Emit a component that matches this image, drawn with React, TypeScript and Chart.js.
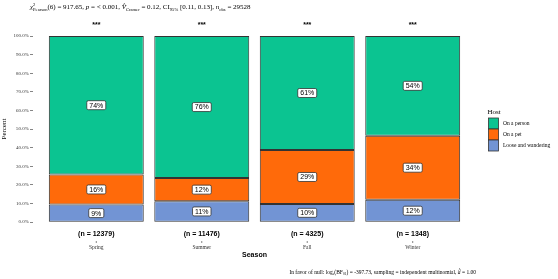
import React, { useEffect, useRef } from "react";
import { Chart, registerables } from "chart.js";

Chart.register(...registerables);

const categories = ["Spring", "Summer", "Fall", "Winter"];
const counts = [12379, 11476, 4325, 1348];
const significance = ["***", "***", "***", "***"];
const seriesNames = ["Loose and wandering", "On a pet", "On a person"];
const loose = [9.4, 11.2, 9.7, 12.0];
const pet = [16.2, 12.4, 29.0, 34.4];
const person = [74.4, 76.4, 61.3, 53.6];
const seriesColors = ["#7294D4", "#FF6A0A", "#0BC491"];
const yTickStep = 10;

const SERIF = "'Liberation Serif', 'DejaVu Serif', serif";
const SANS = "'Liberation Sans', Arial, sans-serif";

type Piece = { t: string; sub?: string; sup?: string; italic?: boolean; hat?: boolean };

function drawPieces(ctx: CanvasRenderingContext2D, pieces: Piece[], x: number, y: number, size: number, align: "left" | "right") {
  const subSize = size * 0.65;
  const measure = () => {
    let w = 0;
    for (const p of pieces) {
      ctx.font = `${p.italic ? "italic " : ""}${size}px ${SERIF}`;
      w += ctx.measureText(p.t).width;
      ctx.font = `${subSize}px ${SERIF}`;
      const ws = p.sub ? ctx.measureText(p.sub).width : 0;
      const wp = p.sup ? ctx.measureText(p.sup).width : 0;
      w += Math.max(ws, wp);
    }
    return w;
  };
  let cx = align === "right" ? x - measure() : x;
  ctx.textAlign = "left";
  ctx.textBaseline = "alphabetic";
  for (const p of pieces) {
    ctx.font = `${p.italic ? "italic " : ""}${size}px ${SERIF}`;
    ctx.fillText(p.t, cx, y);
    const tw = ctx.measureText(p.t).width;
    if (p.hat) {
      ctx.fillText("^", cx + tw * 0.2, y - size * 0.35);
    }
    cx += tw;
    ctx.font = `${subSize}px ${SERIF}`;
    let adv = 0;
    if (p.sub) {
      ctx.fillText(p.sub, cx, y + size * 0.28);
      adv = Math.max(adv, ctx.measureText(p.sub).width);
    }
    if (p.sup) {
      ctx.fillText(p.sup, cx, y - size * 0.45);
      adv = Math.max(adv, ctx.measureText(p.sup).width);
    }
    cx += adv;
  }
}

function roundRect(ctx: CanvasRenderingContext2D, x: number, y: number, w: number, h: number, r: number) {
  ctx.beginPath();
  ctx.moveTo(x + r, y);
  ctx.lineTo(x + w - r, y);
  ctx.quadraticCurveTo(x + w, y, x + w, y + r);
  ctx.lineTo(x + w, y + h - r);
  ctx.quadraticCurveTo(x + w, y + h, x + w - r, y + h);
  ctx.lineTo(x + r, y + h);
  ctx.quadraticCurveTo(x, y + h, x, y + h - r);
  ctx.lineTo(x, y + r);
  ctx.quadraticCurveTo(x, y, x + r, y);
  ctx.closePath();
}

const decorPlugin = {
  id: "decor",
  afterDatasetsDraw(chart: any) {
    const ctx: CanvasRenderingContext2D = chart.ctx;
    const xs = chart.scales.x;
    const area = chart.chartArea;
    ctx.save();
    ctx.fillStyle = "#000";

    // segment labels
    chart.data.datasets.forEach((ds: any, di: number) => {
      const meta = chart.getDatasetMeta(di);
      meta.data.forEach((bar: any, i: number) => {
        const v = ds.data[i].y;
        const txt = `${Math.round(v)}%`;
        const cy = (bar.y + bar.base) / 2;
        ctx.font = `7px ${SANS}`;
        const tw = ctx.measureText(txt).width;
        const bw = tw + 5;
        const bh = 9;
        roundRect(ctx, bar.x - bw / 2, cy - bh / 2, bw, bh, 1.5);
        ctx.fillStyle = "#fff";
        ctx.fill();
        ctx.strokeStyle = "#333";
        ctx.lineWidth = 0.8;
        ctx.stroke();
        ctx.fillStyle = "#000";
        ctx.textAlign = "center";
        ctx.textBaseline = "middle";
        ctx.fillText(txt, bar.x, cy + 0.5);
      });
    });

    // category annotations
    categories.forEach((c, i) => {
      const px = xs.getPixelForValue(i + 1);
      ctx.textAlign = "center";
      ctx.textBaseline = "middle";
      ctx.fillStyle = "#000";
      ctx.font = `bold 7px ${SANS}`;
      ctx.fillText(significance[i], px, 25);
      ctx.font = `bold 7px ${SANS}`;
      ctx.fillText(`(n = ${counts[i]})`, px, 234);
      ctx.strokeStyle = "#333";
      ctx.lineWidth = 0.6;
      ctx.beginPath();
      ctx.moveTo(px, 241);
      ctx.lineTo(px, 243);
      ctx.stroke();
      ctx.font = `5.5px ${SERIF}`;
      ctx.fillStyle = "#333";
      ctx.fillText(c, px, 247.5);
    });

    // x axis title
    ctx.fillStyle = "#000";
    ctx.font = `bold 7px ${SANS}`;
    ctx.textAlign = "center";
    ctx.fillText("Season", (area.left + area.right) / 2, 255.5);

    // subtitle
    drawPieces(
      ctx,
      [
        { t: "χ", sub: "Pearson", sup: "2", italic: true },
        { t: "(6) = 917.65, " },
        { t: "p", italic: true },
        { t: " = < 0.001, " },
        { t: "V", italic: true, hat: true, sub: "Cramer" },
        { t: " = 0.12, CI", sub: "95%" },
        { t: " [0.11, 0.13], " },
        { t: "n", italic: true, sub: "obs" },
        { t: " = 29528" },
      ],
      30,
      9,
      7,
      "left"
    );

    // caption
    drawPieces(
      ctx,
      [
        { t: "In favor of null: log", sub: "e" },
        { t: "(BF", sub: "01" },
        { t: ") = -397.73, sampling = independent multinomial, " },
        { t: "a", italic: true, hat: true },
        { t: " = 1.00" },
      ],
      476,
      273.5,
      5.5,
      "right"
    );

    // legend
    ctx.textAlign = "left";
    ctx.textBaseline = "middle";
    ctx.font = `7px ${SERIF}`;
    ctx.fillStyle = "#000";
    ctx.fillText("Host", 487.5, 112);
    const order = [2, 1, 0];
    order.forEach((si, k) => {
      const y0 = 118 + k * 11;
      ctx.fillStyle = seriesColors[si];
      ctx.fillRect(488.5, y0, 10, 11);
      ctx.strokeStyle = "#333";
      ctx.lineWidth = 0.8;
      ctx.strokeRect(488.5, y0, 10, 11);
      ctx.fillStyle = "#000";
      ctx.font = `5.5px ${SERIF}`;
      ctx.fillText(seriesNames[si], 503, y0 + 5.5);
    });

    ctx.restore();
  },
};

export default function App() {
  const ref = useRef<HTMLCanvasElement | null>(null);
  useEffect(() => {
    if (!ref.current) return;
    const mk = (vals: number[]) => vals.map((v, i) => ({ x: i + 1, y: v }));
    const seriesData = [loose, pet, person];
    const chart = new Chart(ref.current, {
      type: "bar",
      data: {
        datasets: seriesNames.map((name, si) => ({
          label: name,
          data: mk(seriesData[si]),
          backgroundColor: seriesColors[si],
          borderColor: "#333",
          borderWidth: 1,
          borderSkipped: false,
          barPercentage: 0.9,
          categoryPercentage: 1,
        })),
      },
      options: {
        animation: false,
        responsive: false,
        maintainAspectRatio: false,
        devicePixelRatio: 1,
        layout: { padding: { left: 0, top: 36, right: 82, bottom: 57 } },
        plugins: { legend: { display: false }, tooltip: { enabled: false } },
        scales: {
          x: {
            type: "linear",
            min: 0.4,
            max: 4.6,
            offset: false,
            stacked: true,
            display: false,
            grid: { offset: false },
            afterBuildTicks: (s: any) => {
              s.ticks = categories.map((_, i) => ({ value: i + 1 }));
            },
          },
          y: {
            stacked: true,
            min: 0,
            max: 100,
            afterFit: (s: any) => {
              s.width = 33;
            },
            ticks: {
              stepSize: yTickStep,
              padding: 1,
              color: "#333",
              font: { size: 5, family: SERIF },
              callback: (v: any) => `${Number(v).toFixed(1)}%`,
            },
            grid: { drawOnChartArea: false, drawTicks: true, tickLength: 3, color: "#333", lineWidth: 0.6 },
            border: { display: false },
            title: { display: true, text: "Percent", font: { size: 7, family: SERIF }, color: "#000", padding: 0 },
          },
        },
      } as any,
      plugins: [decorPlugin],
    });
    return () => chart.destroy();
  }, []);
  return (
    <div style={{ position: "absolute", left: 0, top: 0, width: 558, height: 279, background: "#fff" }}>
      <canvas ref={ref} width={558} height={279} style={{ width: 558, height: 279 }} />
    </div>
  );
}
